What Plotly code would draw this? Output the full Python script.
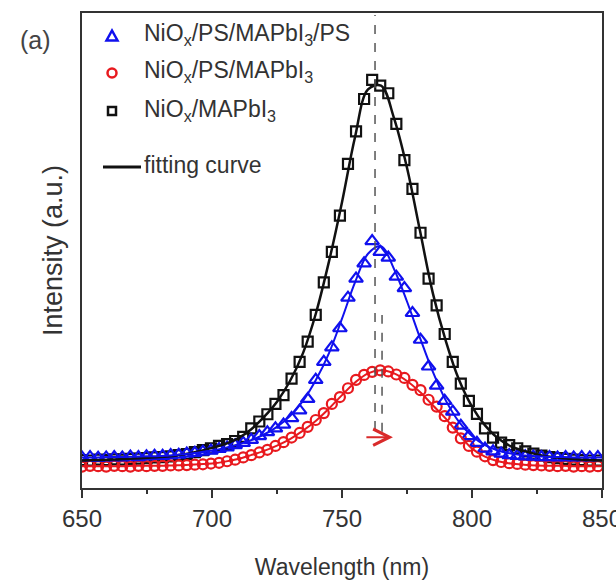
import plotly.graph_objects as go

# Sampling grids (nm)
wl = [round(650.0 + 3.1 * k, 1) for k in range(65)]
wl_fit = [650 + 5 * k for k in range(41)]

# Measured PL intensities (normalised, a.u.)
black_pts = [0.005, 0.004, 0.006, 0.005, 0.007, 0.006, 0.008, 0.009, 0.010, 0.012,
             0.013, 0.015, 0.018, 0.021, 0.026, 0.031, 0.036, 0.042, 0.047, 0.055,
             0.066, 0.088, 0.106, 0.125, 0.152, 0.175, 0.218, 0.262, 0.315, 0.385,
             0.470, 0.550, 0.645, 0.780, 0.865, 0.950, 1.000, 0.985, 0.965, 0.885,
             0.790, 0.715, 0.600, 0.480, 0.410, 0.335, 0.262, 0.205, 0.160, 0.126,
             0.088, 0.064, 0.051, 0.044, 0.036, 0.028, 0.022, 0.017, 0.013, 0.010,
             0.008, 0.006, 0.005, 0.004, 0.004]
blue_pts = [0.012, 0.013, 0.011, 0.012, 0.013, 0.012, 0.014, 0.013, 0.015, 0.016,
            0.016, 0.018, 0.019, 0.022, 0.024, 0.027, 0.030, 0.034, 0.038, 0.044,
            0.050, 0.058, 0.068, 0.078, 0.088, 0.098, 0.115, 0.135, 0.165, 0.215,
            0.262, 0.300, 0.350, 0.430, 0.480, 0.520, 0.578, 0.550, 0.535, 0.485,
            0.455, 0.390, 0.320, 0.250, 0.200, 0.160, 0.132, 0.095, 0.068, 0.050,
            0.035, 0.028, 0.022, 0.018, 0.016, 0.015, 0.014, 0.013, 0.013, 0.012,
            0.013, 0.012, 0.013, 0.012, 0.013]
red_pts = [-0.012, -0.010, -0.011, -0.012, -0.010, -0.011, -0.012, -0.010, -0.011, -0.010,
           -0.010, -0.009, -0.009, -0.008, -0.007, -0.006, -0.004, -0.002, 0.002, 0.006,
           0.012, 0.018, 0.025, 0.032, 0.042, 0.052, 0.064, 0.076, 0.092, 0.110,
           0.128, 0.152, 0.170, 0.193, 0.215, 0.228, 0.236, 0.240, 0.237, 0.229,
           0.220, 0.202, 0.188, 0.163, 0.145, 0.120, 0.090, 0.062, 0.042, 0.027,
           0.015, 0.005, 0.000, -0.003, -0.005, -0.007, -0.008, -0.009, -0.010, -0.011,
           -0.010, -0.012, -0.011, -0.012, -0.011]

# Fitted profiles
black_fit = [0.004, 0.005, 0.006, 0.007, 0.009, 0.011, 0.013, 0.016, 0.021, 0.028,
             0.037, 0.047, 0.062, 0.085, 0.118, 0.158, 0.212, 0.285, 0.390, 0.525,
             0.680, 0.850, 0.975, 0.985, 0.900, 0.770, 0.605, 0.440, 0.315, 0.215,
             0.145, 0.096, 0.062, 0.041, 0.029, 0.020, 0.014, 0.010, 0.007, 0.005, 0.004]
blue_fit = [0.012, 0.012, 0.013, 0.013, 0.014, 0.015, 0.016, 0.018, 0.021, 0.025,
            0.030, 0.037, 0.046, 0.057, 0.072, 0.092, 0.120, 0.160, 0.215, 0.285,
            0.375, 0.470, 0.545, 0.565, 0.505, 0.420, 0.325, 0.235, 0.160, 0.105,
            0.068, 0.044, 0.030, 0.022, 0.017, 0.015, 0.013, 0.013, 0.012, 0.012, 0.012]
red_fit = [-0.011, -0.011, -0.011, -0.011, -0.010, -0.010, -0.010, -0.009, -0.008, -0.006,
           -0.004, 0.001, 0.008, 0.018, 0.029, 0.043, 0.060, 0.082, 0.108, 0.140,
           0.175, 0.208, 0.232, 0.240, 0.232, 0.212, 0.183, 0.148, 0.113, 0.072,
           0.035, 0.014, 0.002, -0.004, -0.007, -0.009, -0.010, -0.010, -0.011, -0.011, -0.011]

# Peak positions marked with dashed guides (nm)
peak_ref = 762.7
peak_shift = 765.4

x_ticks = [650, 700, 750, 800, 850]
legend_labels = ["NiO<sub>x</sub>/PS/MAPbI<sub>3</sub>/PS",
                 "NiO<sub>x</sub>/PS/MAPbI<sub>3</sub>",
                 "NiO<sub>x</sub>/MAPbI<sub>3</sub>",
                 "fitting curve"]

BLUE = "#1010ee"
RED = "#e8191e"
BLACK = "#111111"
TXT = "#333333"
FONT = "Liberation Sans, Arial, sans-serif"

fig = go.Figure()

fig.add_trace(go.Scatter(x=wl, y=black_pts, mode="markers",
                         marker=dict(symbol="square-open", size=10, color=BLACK,
                                     line=dict(width=2.2, color=BLACK))))
fig.add_trace(go.Scatter(x=wl, y=red_pts, mode="markers",
                         marker=dict(symbol="circle-open", size=10, color=RED,
                                     line=dict(width=2.2, color=RED))))
fig.add_trace(go.Scatter(x=wl, y=blue_pts, mode="markers",
                         marker=dict(symbol="triangle-up-open", size=12, color=BLUE,
                                     line=dict(width=2.2, color=BLUE))))

fig.add_trace(go.Scatter(x=wl_fit, y=black_fit, mode="lines",
                         line=dict(color=BLACK, width=2.5, shape="spline")))
fig.add_trace(go.Scatter(x=wl_fit, y=blue_fit, mode="lines",
                         line=dict(color=BLUE, width=2, shape="spline")))
fig.add_trace(go.Scatter(x=wl_fit, y=red_fit, mode="lines",
                         line=dict(color=RED, width=2, shape="spline")))

y_lo, y_hi = -0.068, 1.175

shapes = [
    dict(type="line", xref="x", yref="y", x0=peak_ref, x1=peak_ref, y0=0.084, y1=1.17,
         line=dict(color="#555555", width=1.5, dash="dash")),
    dict(type="line", xref="x", yref="y", x0=peak_shift, x1=peak_shift, y0=0.079, y1=0.385,
         line=dict(color="#555555", width=1.5, dash="dash")),
]

# Hand-drawn legend in paper coordinates
L, W, B, H = 82, 520, 488, 475
def px(xp):
    return (xp - L) / W
def py(yp):
    return (B - yp) / H

rows_y = [36, 73, 111, 167]
mx = 112
# triangle
shapes.append(dict(type="path", xref="paper", yref="paper",
                   path=f"M {px(mx-5.5)},{py(rows_y[0]+4.5)} L {px(mx+5.5)},{py(rows_y[0]+4.5)} "
                        f"L {px(mx)},{py(rows_y[0]-5.5)} Z",
                   line=dict(color=BLUE, width=2.5)))
# circle
shapes.append(dict(type="circle", xref="paper", yref="paper",
                   x0=px(mx-4.5), x1=px(mx+4.5), y0=py(rows_y[1]+4.5), y1=py(rows_y[1]-4.5),
                   line=dict(color=RED, width=2.5)))
# square
shapes.append(dict(type="rect", xref="paper", yref="paper",
                   x0=px(mx-4), x1=px(mx+4), y0=py(rows_y[2]+4), y1=py(rows_y[2]-4),
                   line=dict(color=BLACK, width=2.5)))
# line
shapes.append(dict(type="line", xref="paper", yref="paper",
                   x0=px(103), x1=px(141), y0=py(rows_y[3]), y1=py(rows_y[3]),
                   line=dict(color=BLACK, width=3)))

annotations = []
for lab, yy in zip(legend_labels, [35, 72, 110, 165]):
    annotations.append(dict(text=lab, xref="paper", yref="paper", x=px(142), y=py(yy),
                            xanchor="left", yanchor="middle", showarrow=False,
                            font=dict(family=FONT, size=23, color=TXT)))

annotations.append(dict(text="(a)", xref="paper", yref="paper", x=px(35), y=py(40),
                        xanchor="center", yanchor="middle", showarrow=False,
                        font=dict(family=FONT, size=25, color="#444444")))

# red-shift arrow
annotations.append(dict(text="", xref="x", yref="y", x=769.6, y=0.065,
                        axref="x", ayref="y", ax=758.8, ay=0.065, showarrow=True,
                        arrowhead=5, arrowsize=1.6, arrowwidth=2, arrowcolor="#d92a2a"))

fig.update_layout(
    width=616, height=580,
    margin=dict(l=82, r=14, t=13, b=92, autoexpand=False),
    paper_bgcolor="white", plot_bgcolor="white",
    showlegend=False,
    shapes=shapes,
    annotations=annotations,
    xaxis=dict(range=[650, 850], tickvals=x_ticks, ticks="outside", ticklen=8,
               tickwidth=1.5, tickcolor="#333333", ticklabeloverflow="allow",
               automargin=False,
               minor=dict(tickvals=[675, 725, 775, 825], ticks="outside", ticklen=4,
                          tickwidth=1.5, tickcolor="#333333"),
               showline=True, linecolor="#333333", linewidth=2, mirror=True,
               showgrid=False, zeroline=False,
               tickfont=dict(family=FONT, size=24, color=TXT),
               title=dict(text="Wavelength (nm)", standoff=30,
                          font=dict(family=FONT, size=23, color=TXT))),
    yaxis=dict(range=[y_lo, y_hi], showticklabels=False, ticks="",
               automargin=False,
               showline=True, linecolor="#333333", linewidth=2, mirror=True,
               showgrid=False, zeroline=False,
               title=dict(text="Intensity (a.u.)", standoff=10,
                          font=dict(family=FONT, size=27, color=TXT))),
)

fig.write_html("out.html")
